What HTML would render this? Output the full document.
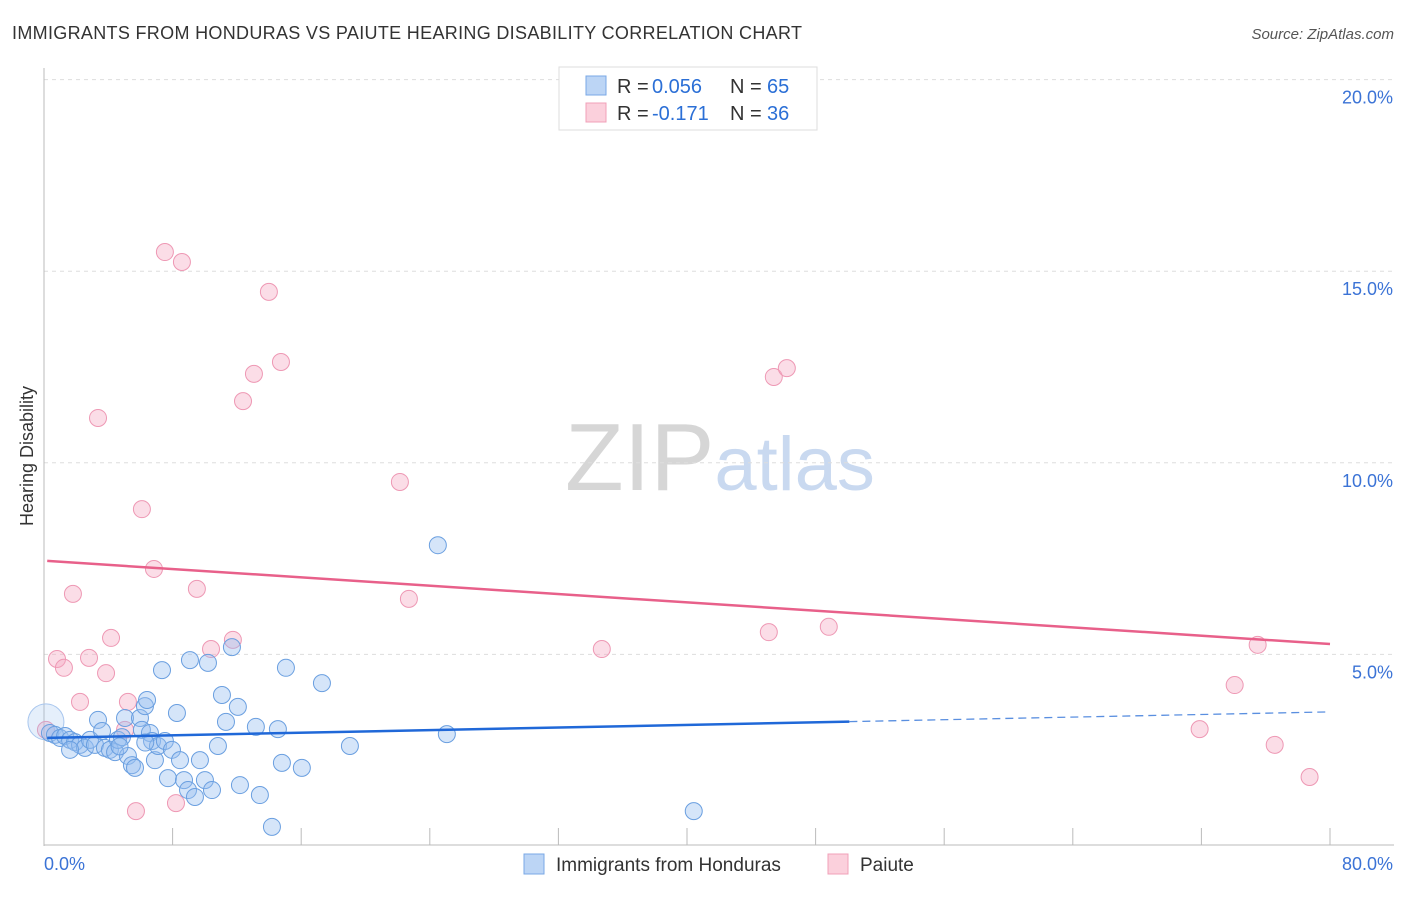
<!DOCTYPE html>
<html><head><meta charset="utf-8"><style>
body{margin:0;background:#fff;font-family:"Liberation Sans",sans-serif;}
svg text{font-family:"Liberation Sans",sans-serif;}
</style></head><body>
<svg id="chart" width="1406" height="892" viewBox="0 0 1406 892" xmlns="http://www.w3.org/2000/svg">
<text x="12" y="39" font-size="18" fill="#333" textLength="790">IMMIGRANTS FROM HONDURAS VS PAIUTE HEARING DISABILITY CORRELATION CHART</text>
<text x="1394" y="39" font-size="15" fill="#555" text-anchor="end" font-style="italic">Source: ZipAtlas.com</text>
<text x="720" y="490" font-size="96" text-anchor="middle" fill="#ddd" font-family="Liberation Serif"><tspan fill="#d6d6d6">ZIP</tspan><tspan fill="#c9d9f0" font-family="Liberation Sans" font-size="76">atlas</tspan></text>
<text transform="translate(33,456) rotate(-90)" font-size="18" fill="#333" text-anchor="middle">Hearing Disability</text>
<g id="grid"></g><g id="pts"></g><g id="trend"></g>
<g>
<rect x="559" y="67" width="258" height="63" fill="#fff" stroke="#ddd"/>
<rect x="586" y="76" width="20" height="19" fill="#bcd5f5" stroke="#7aa8e6"/>
<rect x="586" y="103" width="20" height="19" fill="#fbd0dc" stroke="#f0a0b8"/>
<text x="617" y="93" font-size="20" fill="#333">R =</text>
<text x="652" y="93" font-size="20" fill="#2b6fd6">0.056</text>
<text x="730" y="93" font-size="20" fill="#333">N =</text>
<text x="767" y="93" font-size="20" fill="#2b6fd6">65</text>
<text x="617" y="120" font-size="20" fill="#333">R =</text>
<text x="652" y="120" font-size="20" fill="#2b6fd6">-0.171</text>
<text x="730" y="120" font-size="20" fill="#333">N =</text>
<text x="767" y="120" font-size="20" fill="#2b6fd6">36</text>
</g>
<g>
<rect x="524" y="854" width="20" height="20" fill="#bcd5f5" stroke="#7aa8e6"/>
<text x="556" y="871" font-size="19" fill="#333">Immigrants from Honduras</text>
<rect x="828" y="854" width="20" height="20" fill="#fbd0dc" stroke="#f0a0b8"/>
<text x="860" y="871" font-size="19" fill="#333">Paiute</text>
</g>
</svg>
<script>
const yTicks=[5,10,15,20];
const yTickLabels=["5.0%","10.0%","15.0%","20.0%"];
const xTicks=[0,8,16,24,32,40,48,56,64,72,80];
const blueX=[0.12,0.37,0.68,1.0,1.31,1.62,1.93,2.24,2.55,1.62,2.86,3.17,3.36,3.61,3.79,4.10,4.42,4.60,4.85,5.04,5.22,5.47,5.66,5.97,6.09,6.28,6.41,6.59,6.72,6.90,7.09,7.34,7.52,7.71,7.96,8.27,8.46,8.71,8.96,9.08,9.39,9.70,10.01,10.2,10.45,10.82,11.07,11.32,11.69,12.06,12.19,13.18,13.43,14.18,14.55,14.80,15.05,16.04,17.29,19.03,24.5,25.06,40.42,4.7,6.3];
const blueY=[3.24,2.95,2.90,2.82,2.87,2.77,2.71,2.64,2.56,2.51,2.77,2.64,3.29,3.00,2.56,2.51,2.45,2.77,2.84,3.34,2.35,2.11,2.04,3.34,3.03,3.65,3.81,2.95,2.74,2.24,2.61,4.59,2.74,1.77,2.51,3.47,2.24,1.72,1.46,4.85,1.28,2.24,1.72,4.78,1.46,2.61,3.94,3.24,5.19,3.63,1.59,3.11,1.33,0.50,3.05,2.17,4.65,2.04,4.25,2.61,7.85,2.92,0.91,2.6,2.7];
const pinkX=[7.52,8.58,13.99,14.74,13.06,12.38,3.36,6.09,6.84,22.14,1.80,9.51,22.70,4.17,10.39,11.75,0.81,1.24,2.80,3.86,2.24,5.22,5.04,0.12,8.21,5.72,45.4,46.21,45.09,48.82,34.70,75.5,74.07,71.89,76.56,78.73];
const pinkY=[15.50,15.24,14.46,12.63,12.32,11.61,11.17,8.79,7.23,9.50,6.58,6.71,6.45,5.43,5.14,5.38,4.88,4.65,4.91,4.51,3.76,3.76,3.03,3.03,1.12,0.91,12.24,12.47,5.58,5.72,5.14,5.25,4.20,3.05,2.64,1.80];
const blueTrend=[2.82,3.50];
const pinkTrend=[7.44,5.27];
const NS="http://www.w3.org/2000/svg";
const X=v=>44+v*1286/80;
const Y=v=>846-v*38.32;
function mk(t,a,p){const e=document.createElementNS(NS,t);for(const k in a)e.setAttribute(k,a[k]);p.appendChild(e);return e;}
const grid=document.getElementById('grid');
for(let i=0;i<yTicks.length;i++){
 const l=mk('line',{x1:44,x2:1394,y1:Y(yTicks[i]),y2:Y(yTicks[i]),stroke:'#ddd','stroke-dasharray':'4 4'},grid);
 
 
 const t=mk('text',{x:1393,y:Y(yTicks[i])+24,'font-size':18,fill:'#3b73d6','text-anchor':'end'},grid);
 t.textContent=yTickLabels[i];
 
 
}
const ax=mk('line',{x1:44,x2:44,y1:68,y2:846,stroke:'#bbb'},grid);


const bx=mk('line',{x1:44,x2:1394,y1:845,y2:845,stroke:'#bbb'},grid);


for(const v of xTicks){const l=mk('line',{x1:X(v),x2:X(v),y1:828,y2:845,stroke:'#bbb'},grid);
 
 }
const t0=mk('text',{x:44,y:870,'font-size':18,fill:'#3b73d6'},grid);t0.textContent='0.0%';


const t1=mk('text',{x:1393,y:870,'font-size':18,fill:'#3b73d6','text-anchor':'end'},grid);t1.textContent='80.0%';


const pts=document.getElementById('pts');
for(let i=0;i<pinkX.length;i++){const c=mk('circle',{cx:X(pinkX[i]),cy:Y(pinkY[i]),r:8.5,fill:'rgba(246,170,195,0.4)',stroke:'#ee98b4','stroke-width':1},pts);
 
 }
for(let i=0;i<blueX.length;i++){const c=mk('circle',{cx:X(blueX[i]),cy:Y(blueY[i]),r:i==0?18:8.5,fill:i==0?'rgba(150,190,240,0.25)':'rgba(150,190,240,0.4)',stroke:i==0?'#a8c6ee':'#6a9fe0','stroke-width':1},pts);
 
 }
const tr=document.getElementById('trend');
const bY=x=>blueTrend[0]+(blueTrend[1]-blueTrend[0])*x/80;
const pl=mk('line',{x1:X(0.2),y1:Y(pinkTrend[0]),x2:X(80),y2:Y(pinkTrend[1]),stroke:'#e8608a','stroke-width':2.5},tr);


const bl=mk('line',{x1:X(0.2),y1:Y(bY(0.2)),x2:X(50.1),y2:Y(bY(50.1)),stroke:'#2068d8','stroke-width':2.5},tr);


const bd=mk('line',{x1:X(50.1),y1:Y(bY(50.1)),x2:X(80),y2:Y(bY(80)),stroke:'#5a8fe0','stroke-width':1.3,'stroke-dasharray':'8 5'},tr);


</script>
</body></html>
